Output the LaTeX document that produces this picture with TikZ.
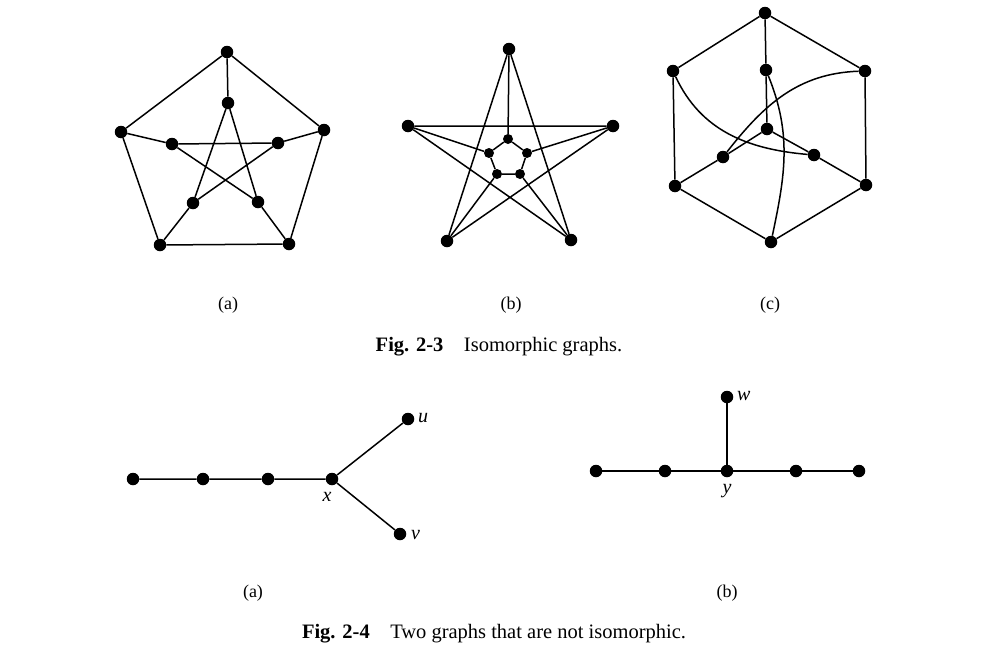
\documentclass[tikz,border=0pt]{standalone}
\usepackage{fontspec}
\setmainfont{Liberation Serif}
\begin{document}
\begin{tikzpicture}[x=1pt,y=-1pt,
    dot/.style={circle,fill=black,inner sep=0pt,minimum size=12.5pt},
    smalldot/.style={dot,minimum size=10pt},
    edge/.style={line width=1.5pt},
    caption/.style={anchor=base,font=\fontsize{20.5}{24}\selectfont},
    sublbl/.style={anchor=base,font=\fontsize{18}{21}\selectfont},
    vlbl/.style={font=\fontsize{20}{24}\selectfont\itshape,inner sep=0pt}]
\useasboundingbox (0,0) rectangle (988,664);

% Grafo (a): pentagono e stella
\node[dot] (ao1) at (227,52) {};
\node[dot] (ao2) at (324,130) {};
\node[dot] (ao3) at (289,244) {};
\node[dot] (ao4) at (160,245) {};
\node[dot] (ao5) at (121,132) {};
\node[dot] (ai1) at (228,103) {};
\node[dot] (ai2) at (278,143) {};
\node[dot] (ai3) at (258,202) {};
\node[dot] (ai4) at (193,203) {};
\node[dot] (ai5) at (172,144) {};
\draw[edge] (ao1) -- (ao2) -- (ao3) -- (ao4) -- (ao5) -- (ao1);
\draw[edge] (ai1) -- (ai3) -- (ai5) -- (ai2) -- (ai4) -- (ai1);
\foreach \i in {1,...,5}
    \draw[edge] (ao\i) -- (ai\i);

% Grafo (b): stella e pentagono interno
\node[dot] (bo1) at (509,49) {};
\node[dot] (bo2) at (613,126) {};
\node[dot] (bo3) at (571,240) {};
\node[dot] (bo4) at (447,241) {};
\node[dot] (bo5) at (408,126) {};
\node[smalldot] (bi1) at (508,139) {};
\node[smalldot] (bi2) at (527,153) {};
\node[smalldot] (bi3) at (520,174) {};
\node[smalldot] (bi4) at (497,174) {};
\node[smalldot] (bi5) at (489,153) {};
\draw[edge] (bo1) -- (bo3) -- (bo5) -- (bo2) -- (bo4) -- (bo1);
\draw[edge] (bi1) -- (bi2) -- (bi3) -- (bi4) -- (bi5) -- (bi1);
\foreach \i in {1,...,5}
    \draw[edge] (bo\i) -- (bi\i);

% Grafo (c): esagono con archi
\node[dot] (c1) at (765,13) {};
\node[dot] (c2) at (865,71) {};
\node[dot] (c3) at (866,185) {};
\node[dot] (c4) at (771,242) {};
\node[dot] (c5) at (675,186) {};
\node[dot] (c6) at (673,71) {};
\node[dot] (ct) at (766,70) {};
\node[dot] (cc) at (767,129) {};
\node[dot] (cl) at (723,157) {};
\node[dot] (cr) at (814,155) {};
\draw[edge] (c1) -- (c2) -- (c3) -- (c4) -- (c5) -- (c6) -- (c1);
\draw[edge] (c1) -- (ct) -- (cc);
\draw[edge] (cl) -- (cc) -- (cr);
\draw[edge] (c5) -- (cl);
\draw[edge] (c3) -- (cr);
\draw[edge] (c6) to[out=-65,in=175] (cr);
\draw[edge] (c2) to[out=182,in=52] (cl);
\draw[edge] (ct) to[out=-68,in=78] (c4);

\node[sublbl] (la) at (228,309) {(a)};
\node[sublbl] (lb) at (511,309) {(b)};
\node[sublbl] (lc) at (770,309) {(c)};
\node[caption] (cap3) at (499,351) {\textbf{Fig. 2-3}\quad Isomorphic graphs.};

% Fig. 2-4 (a)
\node[dot] (p1) at (133,479) {};
\node[dot] (p2) at (203,479) {};
\node[dot] (p3) at (268,479) {};
\node[dot] (px) at (332,479) {};
\node[dot] (pu) at (408,419) {};
\node[dot] (pv) at (400,534) {};
\draw[edge] (p1) -- (p2) -- (p3) -- (px) -- (pu);
\draw[edge] (px) -- (pv);
\node[vlbl] (lx) at (327,497) {x};
\node[vlbl,anchor=west] (lu) at (418,418) {u};
\node[vlbl,anchor=west] (lv) at (411,535) {v};

% Fig. 2-4 (b)
\node[dot] (q1) at (596,471) {};
\node[dot] (q2) at (665,471) {};
\node[dot] (qy) at (727,471) {};
\node[dot] (q4) at (796,471) {};
\node[dot] (q5) at (859,471) {};
\node[dot] (qw) at (727,397) {};
\draw[edge] (q1) -- (q2) -- (qy) -- (q4) -- (q5);
\draw[edge] (qy) -- (qw);
\node[vlbl,anchor=west] (lw) at (737,396) {w};
\node[vlbl] (ly) at (727,491) {y};

\node[sublbl] (la2) at (253,597) {(a)};
\node[sublbl] (lb2) at (727,597) {(b)};
\node[caption] (cap4) at (494,638) {\textbf{Fig. 2-4}\quad Two graphs that are not isomorphic.};
\end{tikzpicture}
\end{document}
